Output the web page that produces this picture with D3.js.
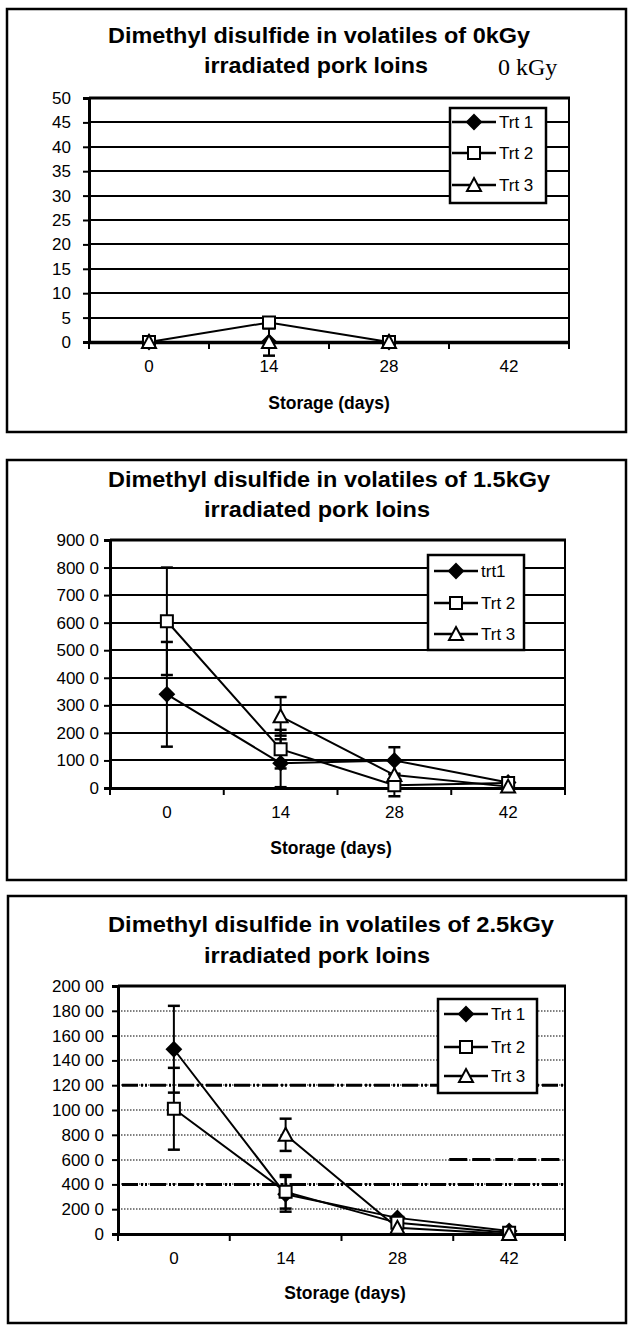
<!DOCTYPE html>
<html>
<head>
<meta charset="utf-8">
<script src="https://cdn.jsdelivr.net/npm/d3@7"></script>
<style>
body { margin: 0; background: #fff; }
svg { display: block; }
text { font-family: "Liberation Sans", Arial, sans-serif; fill: #000; }
</style>
</head>
<body>
<div id="chart"></div>
<script>
// storage days (x categories)
const days = [0, 14, 28, 42];

// 0 kGy
const names0 = ["Trt 1", "Trt 2", "Trt 3"];
const trt1_0 = [0, 0, 0, null];
const trt2_0 = [0, 4, 0, null];
const trt3_0 = [0, 0, 0, null];
const err1_0 = [0, 0, 0, null];
const err2_0 = [0, 0, 0, null];
const err3_0 = [0, 2.8, 0, null];
const ticks0 = [0, 5, 10, 15, 20, 25, 30, 35, 40, 45, 50];
const tickLabels0 = ["0", "5", "10", "15", "20", "25", "30", "35", "40", "45", "50"];

// 1.5 kGy
const names15 = ["trt1", "Trt 2", "Trt 3"];
const trt1_15 = [3400, 900, 1000, 200];
const trt2_15 = [6050, 1410, 100, 180];
const trt3_15 = [null, 2600, 470, 50];
const err1_15 = [1900, 870, 480, 0];
const err2_15 = [1950, 700, 400, 0];
const err3_15 = [null, 700, 0, 0];
const ticks15 = [0, 1000, 2000, 3000, 4000, 5000, 6000, 7000, 8000, 9000];
const tickLabels15 = ["0", "100 0", "200 0", "300 0", "400 0", "500 0", "600 0", "700 0", "800 0", "900 0"];

// 2.5 kGy
const names25 = ["Trt 1", "Trt 2", "Trt 3"];
const trt1_25 = [14900, 3200, 1300, 250];
const trt2_25 = [10100, 3400, 900, 100];
const trt3_25 = [null, 8000, 500, 0];
const err1_25 = [3500, 1400, 0, 0];
const err2_25 = [3300, 1350, 0, 0];
const err3_25 = [null, 1300, 0, 0];
const ticks25 = [0, 2000, 4000, 6000, 8000, 10000, 12000, 14000, 16000, 18000, 20000];
const tickLabels25 = ["0", "200 0", "400 0", "600 0", "800 0", "100 00", "120 00", "140 00", "160 00", "180 00", "200 00"];
const heavyGrid25 = [4000, 12000];
const heavyPartGrid25 = [6000];

const svg = d3.select("#chart").append("svg")
    .attr("width", 629)
    .attr("height", 1325);

const markers = [
    {path: "M0,-7L7,0L0,7L-7,0Z", fill: "#000"},
    {path: "M-6,-6H6V6H-6Z", fill: "#fff"},
    {path: "M0,-7L7,6L-7,6Z", fill: "#fff"}
];

function drawPanel(p) {
    let g = svg.append("g");

    // outer frame
    g.append("rect")
        .attr("x", p.box[0]).attr("y", p.box[1])
        .attr("width", p.box[2] - p.box[0]).attr("height", p.box[3] - p.box[1])
        .attr("fill", "none").attr("stroke", "#000").attr("stroke-width", 2.5);

    // title
    p.titles.forEach((t, i) => {
        g.append("text")
            .attr("x", p.titleX[i]).attr("y", p.titleY[i])
            .attr("font-size", 22.5).attr("font-weight", "bold")
            .attr("textLength", p.titleW[i]).attr("lengthAdjust", "spacingAndGlyphs")
            .text(t);
    });

    let x = d3.scaleBand().domain(days).range([p.plot[0], p.plot[2]]);
    let y = d3.scaleLinear().domain([0, p.ticks[p.ticks.length - 1]]).range([p.plot[3], p.plot[1]]);
    let cx = d => x(d) + x.bandwidth() / 2;

    // gridlines
    g.append("g").selectAll("line")
        .data(p.ticks.slice(1))
        .join("line")
        .attr("x1", p.plot[0]).attr("x2", p.plot[2])
        .attr("y1", d => Math.round(y(d))).attr("y2", d => Math.round(y(d)))
        .attr("stroke", "#000")
        .attr("stroke-width", p.dotted ? 1 : 2)
        .attr("stroke-dasharray", p.dotted ? "1.5,1.5" : null);

    if (p.heavy) {
        g.append("g").selectAll("line")
            .data(p.heavy)
            .join("line")
            .attr("x1", p.plot[0] + 4).attr("x2", p.plot[2])
            .attr("y1", d => y(d)).attr("y2", d => y(d))
            .attr("stroke", "#000").attr("stroke-width", 3)
            .attr("stroke-dasharray", "16,3,2,2,2,3");
        g.append("g").selectAll("line")
            .data(p.heavyPart)
            .join("line")
            .attr("x1", x(42) - 4).attr("x2", p.plot[2])
            .attr("y1", d => y(d)).attr("y2", d => y(d))
            .attr("stroke", "#000").attr("stroke-width", 3)
            .attr("stroke-dasharray", "18,5");
    }

    // plot frame (top and right)
    g.append("line")
        .attr("x1", p.plot[0]).attr("x2", p.plot[2] + 1)
        .attr("y1", p.plot[1]).attr("y2", p.plot[1])
        .attr("stroke", "#000").attr("stroke-width", 3);
    g.append("line")
        .attr("x1", p.plot[2]).attr("x2", p.plot[2])
        .attr("y1", p.plot[1]).attr("y2", p.plot[3])
        .attr("stroke", "#000").attr("stroke-width", 2);

    // y axis
    let yAxis = g.append("g")
        .attr("transform", "translate(" + p.plot[0] + ",0)")
        .call(d3.axisLeft(y).tickValues(p.ticks).tickFormat((d, i) => p.tickLabels[i]).tickSize(6).tickPadding(p.yPad));
    yAxis.select(".domain").attr("stroke-width", 3);
    yAxis.selectAll(".tick line").attr("stroke-width", 2);
    yAxis.selectAll("text").attr("font-size", 17);

    // x axis
    let xAxis = g.append("g")
        .attr("transform", "translate(0," + p.plot[3] + ")")
        .call(d3.axisBottom(x).tickSize(0).tickPadding(p.xPad));
    xAxis.select(".domain").attr("stroke-width", p.xAxisW);
    xAxis.selectAll("text").attr("font-size", 17);
    g.append("g").selectAll("line")
        .data(days.map(d => x(d)).concat([p.plot[2]]))
        .join("line")
        .attr("x1", d => d).attr("x2", d => d)
        .attr("y1", p.plot[3]).attr("y2", p.plot[3] + 7)
        .attr("stroke", "#000").attr("stroke-width", 2);

    // axis title
    g.append("text")
        .attr("x", p.xTitle[0]).attr("y", p.xTitle[1])
        .attr("text-anchor", "middle")
        .attr("font-size", 17.5).attr("font-weight", "bold")
        .text("Storage (days)");

    // series lines
    let line = d3.line()
        .defined(d => d[1] !== null)
        .x(d => cx(d[0]))
        .y(d => y(d[1]));

    p.series.forEach(s => {
        g.append("path")
            .datum(days.map((d, i) => [d, s[i]]))
            .attr("d", line)
            .attr("fill", "none").attr("stroke", "#000").attr("stroke-width", 2);
    });

    // error bars
    p.series.forEach((s, k) => {
        let pts = days.map((d, i) => ({d: d, v: s[i], e: p.errors[k][i]}))
            .filter(o => o.v !== null && o.e);
        let eg = g.append("g").selectAll("g").data(pts).join("g");
        eg.append("line")
            .attr("x1", o => cx(o.d)).attr("x2", o => cx(o.d))
            .attr("y1", o => y(o.v - o.e)).attr("y2", o => y(o.v + o.e))
            .attr("stroke", "#000").attr("stroke-width", 2);
        [-1, 1].forEach(sg => {
            eg.append("line")
                .attr("x1", o => cx(o.d) - 6).attr("x2", o => cx(o.d) + 6)
                .attr("y1", o => y(o.v + sg * o.e)).attr("y2", o => y(o.v + sg * o.e))
                .attr("stroke", "#000").attr("stroke-width", 2.5);
        });
    });

    // markers
    p.series.forEach((s, k) => {
        g.append("g").selectAll("path")
            .data(days.map((d, i) => [d, s[i]]).filter(o => o[1] !== null))
            .join("path")
            .attr("transform", o => "translate(" + cx(o[0]) + "," + y(o[1]) + ")")
            .attr("d", markers[k].path)
            .attr("fill", markers[k].fill)
            .attr("stroke", "#000").attr("stroke-width", 2);
    });

    // legend
    let lg = g.append("g");
    lg.append("rect")
        .attr("x", p.legend[0]).attr("y", p.legend[1])
        .attr("width", p.legend[2] - p.legend[0]).attr("height", p.legend[3] - p.legend[1])
        .attr("fill", "#fff").attr("stroke", "#000").attr("stroke-width", 2.5);
    p.names.forEach((n, k) => {
        let ly = p.legendY[k];
        lg.append("line")
            .attr("x1", p.legend[0] + p.legendLine[0]).attr("x2", p.legend[0] + p.legendLine[1])
            .attr("y1", ly).attr("y2", ly)
            .attr("stroke", "#000").attr("stroke-width", 2.5);
        lg.append("path")
            .attr("transform", "translate(" + (p.legend[0] + (p.legendLine[0] + p.legendLine[1]) / 2) + "," + ly + ")")
            .attr("d", markers[k].path)
            .attr("fill", markers[k].fill)
            .attr("stroke", "#000").attr("stroke-width", 2);
        lg.append("text")
            .attr("x", p.legend[0] + p.legendLine[1] + 3).attr("y", ly + 6)
            .attr("font-size", 17)
            .text(n);
    });

    return g;
}

let g0 = drawPanel({
    box: [7, 9, 626, 432],
    titles: ["Dimethyl disulfide in volatiles of 0kGy", "irradiated pork loins"],
    titleX: [108, 204], titleY: [43, 73], titleW: [422, 224],
    plot: [89, 98, 569, 342],
    ticks: ticks0, tickLabels: tickLabels0, yPad: 12,
    xPad: 18, xAxisW: 3.5,
    xTitle: [329, 409],
    series: [trt1_0, trt2_0, trt3_0],
    errors: [err1_0, err2_0, err3_0],
    names: names0,
    legend: [450, 108, 546, 203], legendY: [122, 153, 185], legendLine: [2, 46],
    dotted: false
});
g0.append("text")
    .attr("x", 498).attr("y", 75)
    .style("font-family", "'Liberation Serif', 'Times New Roman', serif")
    .attr("font-size", 24)
    .text("0 kGy");

drawPanel({
    box: [7, 460, 626, 880],
    titles: ["Dimethyl disulfide in volatiles of 1.5kGy", "irradiated pork loins"],
    titleX: [108, 204], titleY: [487, 517], titleW: [442, 226],
    plot: [110, 540, 565, 788],
    ticks: ticks15, tickLabels: tickLabels15, yPad: 5,
    xPad: 18, xAxisW: 3,
    xTitle: [331, 854],
    series: [trt1_15, trt2_15, trt3_15],
    errors: [err1_15, err2_15, err3_15],
    names: names15,
    legend: [428, 555, 524, 650], legendY: [571, 603, 634], legendLine: [6, 50],
    dotted: false
});

drawPanel({
    box: [8, 896, 626, 1323],
    titles: ["Dimethyl disulfide in volatiles of 2.5kGy", "irradiated pork loins"],
    titleX: [108, 204], titleY: [932, 963], titleW: [446, 226],
    plot: [118, 986, 565, 1234],
    ticks: ticks25, tickLabels: tickLabels25, yPad: 8,
    xPad: 18, xAxisW: 3,
    xTitle: [345, 1299],
    series: [trt1_25, trt2_25, trt3_25],
    errors: [err1_25, err2_25, err3_25],
    names: names25,
    legend: [438, 999, 537, 1093], legendY: [1014, 1047, 1076], legendLine: [6, 50],
    dotted: true,
    heavy: heavyGrid25, heavyPart: heavyPartGrid25
});
</script>
</body>
</html>
